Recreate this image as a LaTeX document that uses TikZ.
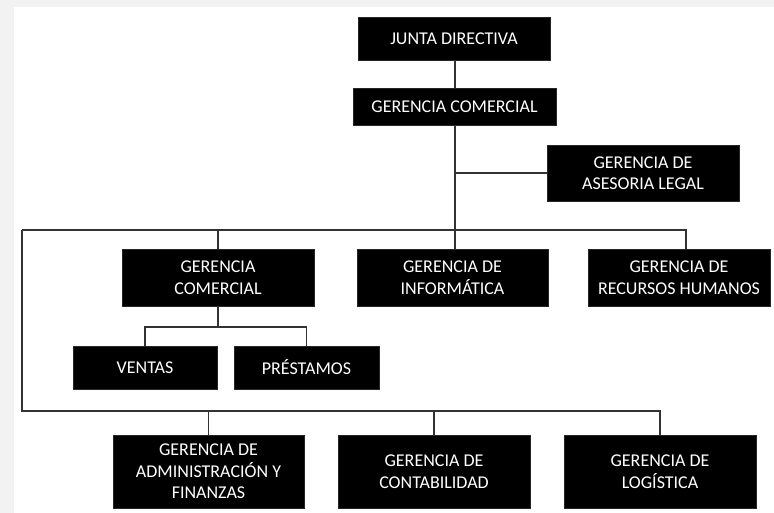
\documentclass[tikz,border=0pt]{standalone}
\usepackage{fontspec}
\setmainfont{Carlito}
\begin{document}
\begin{tikzpicture}[x=1pt,y=-1pt,
  box/.style={draw=black!85,fill=black,text=white,align=center,inner sep=0pt,
    font=\fontsize{18}{21.5}\selectfont},
  link/.style={draw=black!80,line width=1.3pt}]
\fill[black!5] (0,0) rectangle (774,513);
\fill[white] (14,7) rectangle (774,513);
\useasboundingbox (0,0) rectangle (774,513);
% nodes
\node[box,minimum width=192pt,minimum height=43pt] (jd) at (454,38.5) {JUNTA DIRECTIVA};
\node[box,minimum width=203pt,minimum height=37pt] (gc) at (454.5,106.5) {GERENCIA COMERCIAL};
\node[box,minimum width=192pt,minimum height=56pt] (al) at (643,173) {GERENCIA DE\\ASESORIA LEGAL};
\node[box,minimum width=192pt,minimum height=57pt] (gc2) at (218,277.5) {GERENCIA\\COMERCIAL};
\node[box,minimum width=191pt,minimum height=57pt] (inf) at (452.5,277.5) {GERENCIA DE\\INFORMÁTICA};
\node[box,minimum width=182pt,minimum height=57pt] (rh) at (679,277.5) {GERENCIA DE\\RECURSOS HUMANOS};
\node[box,minimum width=144pt,minimum height=43pt] (ve) at (145,367.5) {VENTAS};
\node[box,minimum width=145pt,minimum height=43pt] (pr) at (306.5,367.5) {PRÉSTAMOS};
\node[box,minimum width=191pt,minimum height=73pt] (ad) at (208.5,471.5) {GERENCIA DE\\ADMINISTRACIÓN Y\\FINANZAS};
\node[box,minimum width=192pt,minimum height=73pt] (co) at (434,471.5) {GERENCIA DE\\CONTABILIDAD};
\node[box,minimum width=192pt,minimum height=73pt] (lo) at (660,471.5) {GERENCIA DE\\LOGÍSTICA};
% junction coordinates
\coordinate (spine) at (455,125);
\coordinate (tl) at (22,230);
\coordinate (tr) at (686,230);
\coordinate (bl) at (22,411);
\coordinate (br) at (660,411);
\coordinate (sub) at (218,327);
% connectors
\draw[link] (jd.south -| spine) -- (gc.north -| spine);
\draw[link] (gc.south -| spine) -- (spine |- inf.north);
\draw[link] (spine |- al.west) -- (al.west);
\draw[link] (tl) -- (tr) -- (tr |- rh.north);
\draw[link] (gc2.north) -- (gc2.north |- tl);
\draw[link] (tl) -- (bl) -- (br) -- (lo.north);
\draw[link] (ad.north) -- (ad.north |- bl);
\draw[link] (co.north) -- (co.north |- bl);
\draw[link] (gc2.south) -- (sub);
\draw[link] (ve.north) -- (ve.north |- sub) -- (pr.north |- sub) -- (pr.north);
\end{tikzpicture}
\end{document}
